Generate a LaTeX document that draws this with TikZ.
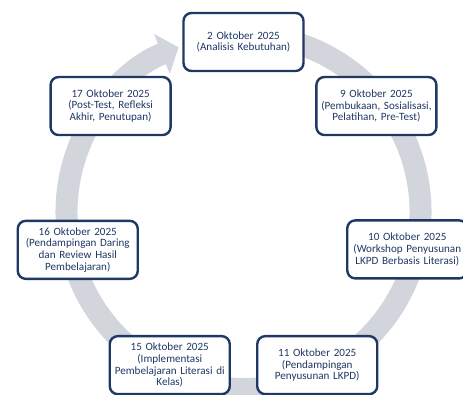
\documentclass[tikz,border=0pt]{standalone}
\usepackage{fontspec}
\setmainfont{Carlito}
\usepackage{xcolor}
\usepackage{tikz}
\usetikzlibrary{arrows.meta, positioning}

\definecolor{navy}{HTML}{1F3864}
\definecolor{ringgray}{HTML}{D2D5DB}

\begin{document}
\begin{tikzpicture}[x=1pt, y=1pt,
    box/.style={draw=navy, line width=2.4pt, rounded corners=8pt, fill=white,
                minimum width=120pt, minimum height=58pt, text width=116pt,
                align=center, inner sep=1pt, text=navy,
                font=\fontsize{11.1}{11.8}\selectfont},
    ring/.style={draw=ringgray, line width=22pt,
                 -{Triangle[length=18pt, width=42pt]}}]
      \useasboundingbox (0,0) rectangle (463,394);
      \coordinate (c) at (243.5,182);
      \draw[ring] ([shift={(80:177)}]c) arc[start angle=80, end angle=-248.5, radius=177];
      \node[box] (t_0) at ([shift={(90:170)}]c)     {2 Oktober 2025\\(Analisis Kebutuhan)};
      \node[box] (t_1) at ([shift={(38.57:170)}]c)  {9 Oktober 2025\\(Pembukaan, Sosialisasi,\\Pelatihan, Pre-Test)};
      \node[box] (t_2) at ([shift={(-12.86:168)}]c) {10 Oktober 2025\\(Workshop Penyusunan\\LKPD Berbasis Literasi)};
      \node[box] (t_3) at ([shift={(-64.29:170)}]c) {11 Oktober 2025\\(Pendampingan\\Penyusunan LKPD)};
      \node[box] (t_4) at ([shift={(-115.71:170)}]c) {15 Oktober 2025\\(Implementasi\\Pembelajaran Literasi di\\Kelas)};
      \node[box] (t_5) at ([shift={(-167.14:170)}]c) {16 Oktober 2025\\(Pendampingan Daring\\dan Review Hasil\\Pembelajaran)};
      \node[box] (t_6) at ([shift={(141.43:170)}]c) {17 Oktober 2025\\(Post-Test, Refleksi\\Akhir, Penutupan)};
    \end{tikzpicture}
\end{document}
